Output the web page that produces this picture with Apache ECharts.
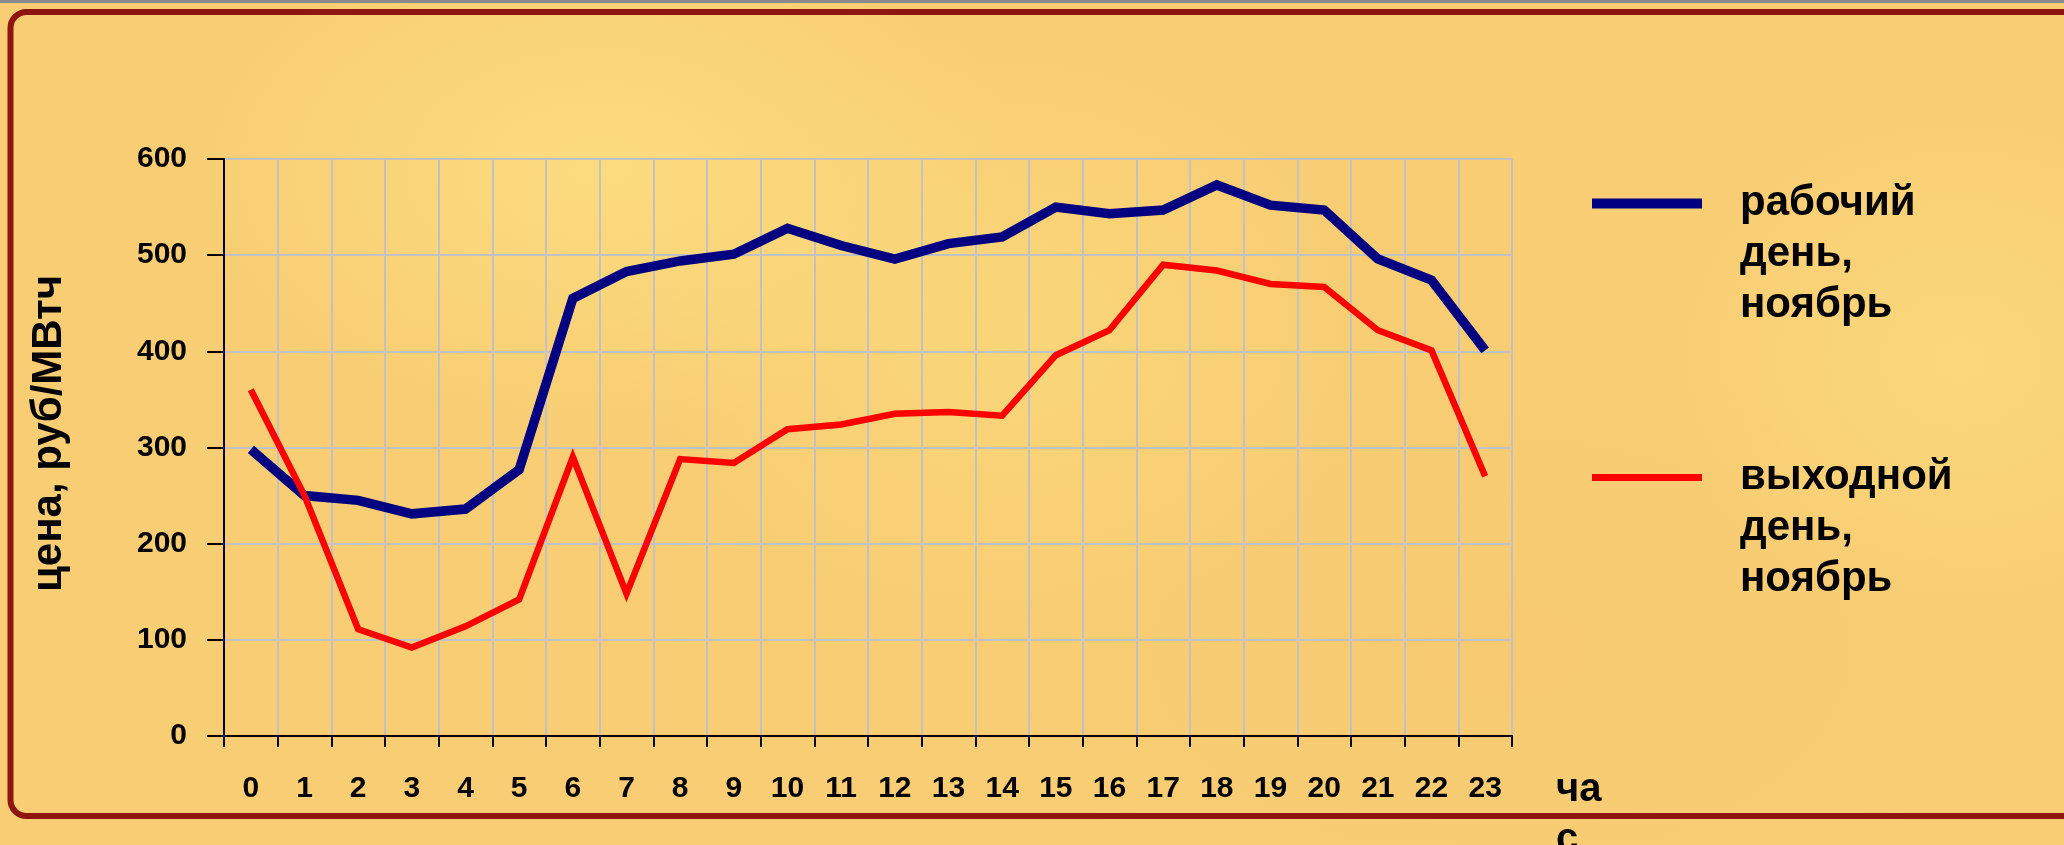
<!DOCTYPE html>
<html>
<head>
<meta charset="utf-8">
<script src="https://cdn.jsdelivr.net/npm/echarts@6/dist/echarts.min.js"></script>
<style>
  html, body {
    margin: 0;
    padding: 0;
  }
  body {
    width: 2064px;
    height: 845px;
    overflow: hidden;
    background-color: #f8cd73;
    background-image:
      radial-gradient(ellipse 420px 260px at 600px 170px, rgba(253, 222, 128, 0.9), rgba(253, 222, 128, 0) 100%),
      radial-gradient(ellipse 380px 300px at 1000px 330px, rgba(252, 218, 124, 0.7), rgba(252, 218, 124, 0) 100%),
      radial-gradient(ellipse 300px 260px at 1960px 360px, rgba(252, 219, 126, 0.8), rgba(252, 219, 126, 0) 100%),
      radial-gradient(ellipse 500px 300px at 1500px 650px, rgba(247, 200, 112, 0.5), rgba(247, 200, 112, 0) 100%);
  }
  .price-chart {
    width: 2064px;
    height: 845px;
  }
</style>
</head>
<body>
<div class="price-chart" id="priceChart"></div>
<script>
  // часы суток
  var hours = ['0', '1', '2', '3', '4', '5', '6', '7', '8', '9', '10', '11',
    '12', '13', '14', '15', '16', '17', '18', '19', '20', '21', '22', '23'];
  // цена, руб/МВтч
  var workdayPrice = [298, 250, 245, 231, 236, 277, 455, 483, 494, 501, 528, 510,
    496, 512, 519, 550, 543, 547, 573, 552, 547, 496, 474, 401];
  var weekendPrice = [360, 250, 111, 92, 114, 142, 290, 148, 288, 284, 319, 324,
    335, 337, 333, 396, 422, 490, 484, 470, 467, 422, 401, 270];
  var seriesNames = ['рабочий день, ноябрь', 'выходной день, ноябрь'];
  var yMin = 0;
  var yMax = 600;
  var yStep = 100;

  var font = '"Liberation Sans", Arial, sans-serif';

  var legendText = {
    color: '#000',
    fontSize: 42,
    fontWeight: 'bold',
    fontFamily: font,
    lineHeight: 51,
    padding: [0, 0, 0, 33]
  };

  // две пустые строки сверху, чтобы значок стоял напротив первой строки
  var legendFormatter = function (name) {
    return '\n\n' + name.replace(/ /g, '\n');
  };

  var option = {
    animation: false,
    backgroundColor: 'transparent',
    grid: {
      left: 224,
      right: 552,
      top: 159,
      bottom: 109,
      containLabel: false,
      outerBoundsMode: 'none'
    },
    legend: [
      {
        data: [seriesNames[0]],
        left: 1592,
        top: 76,
        padding: 0,
        icon: 'rect',
        itemWidth: 110,
        itemHeight: 10,
        selectedMode: false,
        formatter: legendFormatter,
        textStyle: legendText
      },
      {
        data: [seriesNames[1]],
        left: 1592,
        top: 350,
        padding: 0,
        icon: 'rect',
        itemWidth: 110,
        itemHeight: 7,
        selectedMode: false,
        formatter: legendFormatter,
        textStyle: legendText
      }
    ],
    xAxis: {
      type: 'category',
      data: hours,
      boundaryGap: true,
      name: 'ча\nс',
      nameLocation: 'end',
      nameGap: 44,
      nameTextStyle: {
        color: '#000',
        fontSize: 40,
        fontWeight: 'bold',
        fontFamily: font,
        lineHeight: 50,
        align: 'left',
        verticalAlign: 'top',
        padding: [29, 0, 0, 0]
      },
      axisLine: {
        lineStyle: { color: '#000', width: 2 }
      },
      axisTick: {
        show: true,
        length: 11,
        interval: 0,
        lineStyle: { color: '#000', width: 2 }
      },
      axisLabel: {
        interval: 0,
        color: '#000',
        fontSize: 30,
        fontWeight: 'bold',
        fontFamily: font,
        margin: 38
      },
      splitLine: {
        show: true,
        interval: 0,
        lineStyle: { color: '#c2c2c4', width: 2 }
      }
    },
    yAxis: {
      type: 'value',
      min: yMin,
      max: yMax,
      interval: yStep,
      name: 'цена, руб/МВтч',
      nameLocation: 'middle',
      nameRotate: 90,
      nameGap: 154,
      nameTextStyle: {
        color: '#000',
        fontSize: 42,
        fontWeight: 'bold',
        fontFamily: font,
        padding: [0, 0, 0, 28]
      },
      axisLine: {
        show: true,
        lineStyle: { color: '#000', width: 2 }
      },
      axisTick: {
        show: true,
        length: 17,
        lineStyle: { color: '#000', width: 2 }
      },
      axisLabel: {
        color: '#000',
        fontSize: 30,
        fontWeight: 'bold',
        fontFamily: font,
        margin: 37
      },
      splitLine: {
        lineStyle: { color: '#c2c2c4', width: 2 }
      }
    },
    graphic: [
      {
        type: 'rect',
        left: 0,
        top: 0,
        shape: { width: 2064, height: 3 },
        style: { fill: '#8a8a8a' },
        silent: true
      },
      {
        type: 'rect',
        shape: { x: 10.5, y: 12, width: 2200, height: 804, r: 16 },
        style: { fill: 'none', stroke: '#8e1510', lineWidth: 6 },
        silent: true,
        z: -1
      }
    ],
    series: [
      {
        name: seriesNames[0],
        type: 'line',
        data: workdayPrice,
        symbol: 'none',
        itemStyle: { color: '#000080' },
        lineStyle: { color: '#000080', width: 9.5, join: 'miter' }
      },
      {
        name: seriesNames[1],
        type: 'line',
        data: weekendPrice,
        symbol: 'none',
        itemStyle: { color: '#ff0000' },
        lineStyle: { color: '#ff0000', width: 6.5, join: 'miter' }
      }
    ]
  };

  var myChart = echarts.init(document.getElementById('priceChart'));
  myChart.setOption(option);
</script>
</body>
</html>
